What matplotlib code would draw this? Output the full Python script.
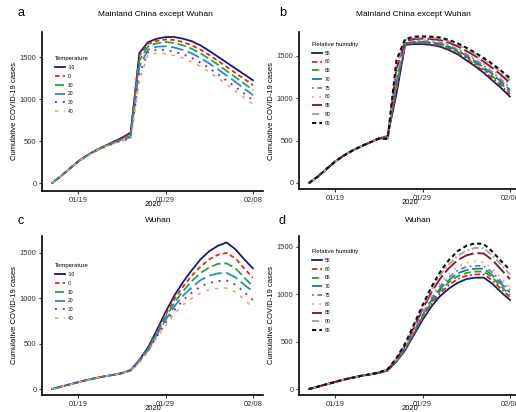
import matplotlib
matplotlib.use('Agg')
import matplotlib.pyplot as plt
import matplotlib.dates as mdates
import pandas as pd
import numpy as np

plt.rcParams['font.family'] = ['Liberation Sans', 'DejaVu Sans']

dates = pd.date_range('2020-01-16', '2020-02-08', freq='D')

# panel a: mainland China except Wuhan, by temperature
temp_labels = ['-10', '0', '10', '20', '30', '40']
a_m10 = [0, 80, 170, 260, 330, 390, 440, 490, 540, 600, 1550, 1680, 1720, 1740, 1740, 1720, 1690, 1640, 1575, 1505, 1435, 1365, 1295, 1225]
a_0 = [0, 80, 170, 258, 328, 388, 438, 485, 530, 585, 1520, 1660, 1695, 1710, 1705, 1680, 1640, 1590, 1525, 1455, 1385, 1310, 1240, 1167]
a_10 = [0, 80, 168, 256, 326, 386, 435, 480, 522, 565, 1460, 1630, 1665, 1680, 1670, 1640, 1600, 1545, 1480, 1410, 1335, 1260, 1185, 1107]
a_20 = [0, 80, 168, 255, 324, 384, 432, 476, 515, 545, 1390, 1590, 1625, 1630, 1615, 1585, 1545, 1490, 1425, 1355, 1280, 1205, 1125, 1048]
a_30 = [0, 80, 167, 254, 322, 382, 430, 472, 508, 530, 1300, 1560, 1590, 1585, 1565, 1535, 1490, 1435, 1370, 1295, 1220, 1145, 1065, 988]
a_40 = [0, 80, 166, 253, 320, 380, 428, 468, 502, 520, 1220, 1530, 1548, 1540, 1520, 1490, 1445, 1390, 1325, 1250, 1175, 1095, 1020, 940]

# panel b: mainland China except Wuhan, by relative humidity
rh_labels = ['55', '60', '65', '70', '75', '80', '85', '90', '95']
b_55 = [0, 75, 165, 255, 325, 385, 435, 480, 525, 555, 1050, 1630, 1640, 1640, 1630, 1610, 1570, 1520, 1450, 1380, 1300, 1210, 1120, 1020]
b_60 = [0, 75, 165, 255, 325, 385, 435, 480, 525, 550, 1100, 1640, 1650, 1650, 1640, 1620, 1585, 1535, 1470, 1400, 1320, 1235, 1145, 1050]
b_65 = [0, 75, 165, 255, 325, 385, 435, 480, 525, 545, 1150, 1645, 1660, 1660, 1650, 1632, 1600, 1550, 1490, 1420, 1345, 1260, 1170, 1075]
b_70 = [0, 75, 165, 255, 325, 385, 435, 480, 525, 540, 1200, 1650, 1665, 1668, 1660, 1645, 1612, 1565, 1505, 1440, 1365, 1285, 1195, 1100]
b_75 = [0, 75, 165, 255, 325, 385, 435, 480, 525, 535, 1250, 1660, 1675, 1678, 1672, 1658, 1625, 1580, 1520, 1458, 1385, 1305, 1220, 1125]
b_80 = [0, 75, 165, 255, 325, 385, 435, 480, 525, 530, 1300, 1670, 1685, 1690, 1685, 1670, 1640, 1595, 1538, 1475, 1405, 1330, 1245, 1150]
b_85 = [0, 75, 165, 255, 325, 385, 435, 480, 525, 530, 1350, 1680, 1700, 1705, 1700, 1688, 1658, 1615, 1560, 1500, 1432, 1358, 1275, 1180]
b_90 = [0, 75, 165, 255, 325, 385, 435, 480, 525, 525, 1400, 1690, 1712, 1718, 1714, 1702, 1675, 1635, 1582, 1522, 1455, 1385, 1305, 1210]
b_95 = [0, 75, 165, 255, 325, 385, 435, 480, 525, 520, 1450, 1700, 1728, 1731, 1728, 1718, 1690, 1650, 1598, 1540, 1475, 1405, 1325, 1240]

# panel c: Wuhan, by temperature
c_m10 = [0, 25, 50, 75, 100, 120, 140, 155, 175, 210, 320, 460, 650, 850, 1030, 1180, 1310, 1430, 1520, 1580, 1615, 1540, 1430, 1330]
c_0 = [0, 25, 50, 75, 100, 120, 140, 155, 175, 205, 315, 450, 630, 820, 990, 1130, 1250, 1350, 1430, 1480, 1500, 1440, 1330, 1225]
c_10 = [0, 25, 50, 75, 100, 120, 140, 155, 175, 205, 310, 440, 610, 790, 950, 1080, 1190, 1280, 1340, 1380, 1385, 1330, 1230, 1130]
c_20 = [0, 25, 50, 75, 100, 120, 140, 155, 175, 205, 305, 430, 600, 760, 910, 1030, 1120, 1200, 1250, 1275, 1280, 1230, 1150, 1075]
c_30 = [0, 25, 50, 75, 100, 120, 140, 155, 175, 205, 300, 420, 580, 730, 870, 980, 1060, 1130, 1170, 1190, 1195, 1150, 1070, 980]
c_40 = [0, 25, 50, 75, 100, 120, 140, 155, 175, 200, 295, 410, 560, 700, 830, 930, 1000, 1060, 1095, 1110, 1112, 1070, 990, 895]

# panel d: Wuhan, by relative humidity
d_55 = [0, 25, 50, 75, 100, 120, 140, 155, 170, 195, 290, 410, 570, 730, 870, 980, 1060, 1120, 1160, 1175, 1176, 1110, 1020, 940]
d_60 = [0, 25, 50, 75, 100, 120, 140, 155, 170, 195, 295, 420, 585, 750, 895, 1010, 1095, 1160, 1195, 1210, 1210, 1145, 1055, 970]
d_65 = [0, 25, 50, 75, 100, 120, 140, 155, 170, 200, 300, 425, 595, 765, 915, 1035, 1125, 1190, 1225, 1240, 1240, 1175, 1080, 995]
d_70 = [0, 25, 50, 75, 100, 120, 140, 155, 170, 200, 300, 430, 605, 780, 935, 1060, 1150, 1220, 1255, 1270, 1270, 1200, 1110, 1020]
d_75 = [0, 25, 50, 75, 100, 120, 140, 155, 170, 200, 305, 435, 615, 795, 955, 1085, 1180, 1250, 1290, 1300, 1300, 1230, 1135, 1045]
d_80 = [0, 25, 50, 75, 100, 120, 140, 155, 175, 205, 310, 445, 630, 815, 980, 1115, 1215, 1290, 1330, 1345, 1340, 1270, 1170, 1080]
d_85 = [0, 25, 50, 75, 100, 120, 140, 155, 175, 205, 315, 460, 650, 845, 1020, 1165, 1275, 1360, 1410, 1435, 1430, 1360, 1260, 1160]
d_90 = [0, 25, 50, 75, 100, 120, 140, 155, 175, 210, 320, 470, 665, 865, 1045, 1200, 1315, 1405, 1460, 1490, 1485, 1410, 1310, 1210]
d_95 = [0, 25, 50, 75, 100, 120, 140, 155, 175, 210, 325, 480, 680, 885, 1075, 1235, 1360, 1455, 1510, 1538, 1530, 1450, 1350, 1257]

temp_styles = [
    ('#1b1b6b', '-', 1.3),
    ('#e3261f', (0, (2.5, 1.8)), 1.3),
    ('#2ea043', (0, (5, 2)), 1.3),
    ('#2b8cb8', (0, (7, 2.5)), 1.3),
    ('#7a3a9a', (0, (1, 3)), 1.4),
    ('#f5a06e', (0, (2, 3.5)), 1.2),
]
rh_styles = [
    ('#1b1b6b', '-', 1.3),
    ('#d62728', (0, (3, 1.5, 1, 1.5)), 1.3),
    ('#2ca02c', (0, (4, 2)), 1.3),
    ('#17808a', (0, (6, 2)), 1.3),
    ('#9467bd', (0, (1, 2, 3, 2)), 1.3),
    ('#f4a582', (0, (1, 3)), 1.3),
    ('#8b1a2a', (0, (8, 2)), 1.4),
    ('#a0a0a0', (0, (4, 1.5, 1, 1.5)), 1.3),
    ('#111111', (0, (2, 1.5)), 1.5),
]

W, H = 516, 412
fig = plt.figure(figsize=(W / 100, H / 100), dpi=100)


def px_axes(left, top, right, bottom):
    return fig.add_axes([left / W, 1 - bottom / H, (right - left) / W, (bottom - top) / H])


def style_axes(ax, ylim):
    x0 = dates[0] - pd.Timedelta(hours=27.6)
    x1 = dates[-1] + pd.Timedelta(hours=27.6)
    ax.set_xlim(x0, x1)
    ax.set_ylim(*ylim)
    ax.set_xticks(pd.to_datetime(['2020-01-19', '2020-01-29', '2020-02-08']))
    ax.xaxis.set_major_formatter(mdates.DateFormatter('%m/%d'))
    ax.set_yticks([0, 500, 1000, 1500])
    for s in ['top', 'right']:
        ax.spines[s].set_visible(False)
    for s in ['left', 'bottom']:
        ax.spines[s].set_linewidth(1.2)
    ax.tick_params(labelsize=5.5, length=2.5, width=0.8, pad=1.5, colors='#333333')
    ax.set_xlabel('2020', fontsize=5.5)
    ax.xaxis.set_label_coords(0.5, -0.065)
    ax.set_ylabel('Cumulative COVID-19 cases', fontsize=5.5)
    ax.yaxis.set_label_coords(-0.11, 0.5)


def draw(ax, series, labels, styles, title, anchor):
    for y, lab, (c, ls, lw) in zip(series, labels, styles):
        ax.plot(dates, y, color=c, linestyle=ls, linewidth=lw, label=lab)
    leg = ax.legend(title=title, loc='upper left', bbox_to_anchor=anchor, frameon=False,
                    fontsize=3.6, title_fontsize=4.3, handlelength=2.0, handletextpad=0.6,
                    labelspacing=0.75, borderaxespad=0)
    leg._legend_box.align = 'left'


ax_a = px_axes(42, 32, 263, 191)
draw(ax_a, [a_m10, a_0, a_10, a_20, a_30, a_40], temp_labels, temp_styles, 'Temperature', (0.05, 0.86))
style_axes(ax_a, (-95, 1800))

ax_b = px_axes(299, 32, 520, 189)
draw(ax_b, [b_55, b_60, b_65, b_70, b_75, b_80, b_85, b_90, b_95], rh_labels, rh_styles, 'Relative humidity', (0.05, 0.95))
style_axes(ax_b, (-71, 1783))

ax_c = px_axes(42, 236, 263, 395)
draw(ax_c, [c_m10, c_0, c_10, c_20, c_30, c_40], temp_labels, temp_styles, 'Temperature', (0.05, 0.84))
style_axes(ax_c, (-66, 1687))

ax_d = px_axes(299, 236, 520, 395)
draw(ax_d, [d_55, d_60, d_65, d_70, d_75, d_80, d_85, d_90, d_95], rh_labels, rh_styles, 'Relative humidity', (0.05, 0.93))
style_axes(ax_d, (-63, 1615))

# titles and panel letters
fig.text(155 / W, 1 - 15 / H, 'Mainland China except Wuhan', ha='center', va='center', fontsize=6)
fig.text(413 / W, 1 - 15 / H, 'Mainland China except Wuhan', ha='center', va='center', fontsize=6)
fig.text(158 / W, 1 - 221 / H, 'Wuhan', ha='center', va='center', fontsize=6)
fig.text(418 / W, 1 - 221 / H, 'Wuhan', ha='center', va='center', fontsize=6)
for lab, x, y in [('a', 21, 13), ('b', 283, 13), ('c', 21, 221), ('d', 282, 221)]:
    fig.text(x / W, 1 - y / H, lab, ha='center', va='center', fontsize=9)

fig.savefig('out.png', dpi=100)
